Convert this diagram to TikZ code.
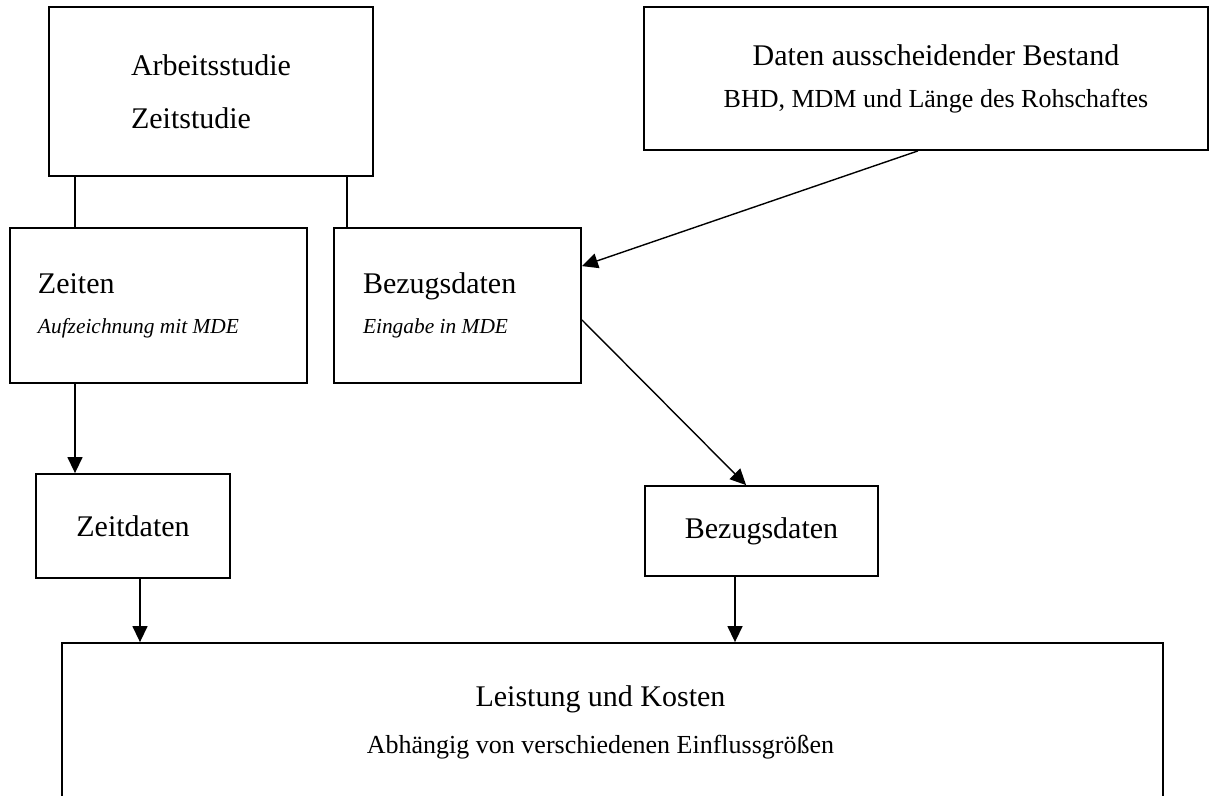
\documentclass[tikz,border=0pt]{standalone}
\usepackage{fontspec}
\setmainfont{Liberation Serif}
\usetikzlibrary{arrows.meta}

\begin{document}
\begin{tikzpicture}[x=0.5pt, y=-0.5pt,
    kasten/.style={draw=black, line width=0.9pt, rectangle, inner sep=0pt},
    pfeil/.style={line width=0.7pt, -{Triangle[length=8pt,width=7.5pt]}},
    verbinder/.style={line width=0.7pt}]
    \useasboundingbox (0,0) rectangle (1210,796);
    \clip (0,0) rectangle (1210,796);

    % obere Reihe
    \node[kasten, minimum width=162pt, minimum height=84.5pt, align=left,
          font=\fontsize{15}{26.5}\selectfont] (arbeit) at (211,91.5)
          {Arbeitsstudie\\Zeitstudie};
    \node[kasten, minimum width=282.25pt, minimum height=71.5pt, align=center,
          font=\fontsize{15}{21}\selectfont] (bestand) at (926,78.5)
          {\hspace*{10pt}Daten ausscheidender Bestand\\\hspace*{10pt}{\fontsize{13}{21}\selectfont BHD, MDM und Länge des Rohschaftes}};

    % mittlere Reihe
    \node[kasten, minimum width=148.5pt, minimum height=77.5pt, inner xsep=14pt,
          text width=120.5pt, align=left, font=\fontsize{15}{20}\selectfont] (zeiten) at (158.5,305.5)
          {Zeiten\\{\fontsize{10.7}{20}\selectfont\itshape\spaceskip=0pt\xspaceskip=0pt Aufzeichnung mit MDE}};
    \node[kasten, minimum width=123.5pt, minimum height=77.5pt, inner xsep=14.5pt,
          text width=94.5pt, align=left, font=\fontsize{15}{20}\selectfont] (bezug) at (457.5,305.5)
          {Bezugsdaten\\{\fontsize{10.7}{20}\selectfont\itshape\spaceskip=0pt\xspaceskip=0pt Eingabe in MDE}};

    % untere Reihe
    \node[kasten, minimum width=97pt, minimum height=52pt, font=\fontsize{15}{18}\selectfont]
          (zeitdaten) at (133,526) {Zeitdaten};
    \node[kasten, minimum width=116.5pt, minimum height=45pt, font=\fontsize{15}{18}\selectfont]
          (bezugsdaten) at (761.5,531) {Bezugsdaten};
    \node[kasten, minimum width=550.5pt, minimum height=79pt, align=center,
          font=\fontsize{15}{23.5}\selectfont] (leistung) at (612.5,722)
          {Leistung und Kosten\hspace*{12pt}\\{\fontsize{13}{23.5}\selectfont Abhängig von verschiedenen Einflussgrößen}\hspace*{12pt}};

    \coordinate (links) at (75,0);
    \coordinate (rechts) at (347,0);

    \draw[verbinder] (arbeit.south -| links) -- (zeiten.north -| links);
    \draw[verbinder] (arbeit.south -| rechts) -- (bezug.north -| rechts);
    \draw[pfeil] ([xshift=-4pt]bestand.south) -- ([yshift=-19.5pt]bezug.north east);
    \draw[pfeil] (zeiten.south -| links) -- (zeitdaten.north -| links);
    \draw[pfeil] ([yshift=32pt]bezug.south east) -- ([xshift=51pt]bezugsdaten.north west);
    \draw[pfeil] ([xshift=3.5pt]zeitdaten.south) -- ([xshift=3.5pt]zeitdaten.south |- leistung.north);
    \draw[pfeil] ([xshift=-13.25pt]bezugsdaten.south) -- ([xshift=-13.25pt]bezugsdaten.south |- leistung.north);
\end{tikzpicture}
\end{document}
